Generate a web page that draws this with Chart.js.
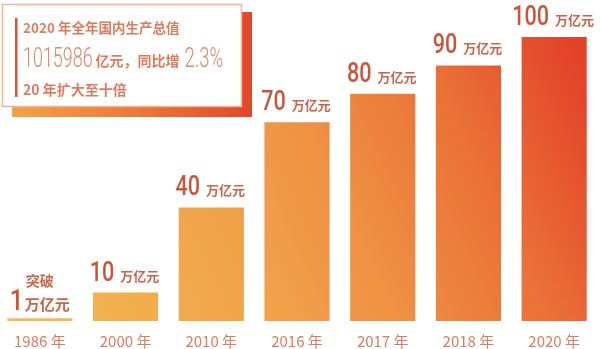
<!DOCTYPE html>
<html>
<head>
<meta charset="utf-8">
<script src="https://cdn.jsdelivr.net/npm/chart.js@4.4.0/dist/chart.umd.min.js"></script>
<style>
  html, body { margin: 0; padding: 0; background: #fff; overflow: hidden; }
  #wrap { position: absolute; left: -3px; top: 0; width: 600px; height: 349px; }
</style>
</head>
<body>
<div id="wrap"><canvas id="gdp" width="600" height="349"></canvas></div>
<script>
// Years and GDP in 万亿元
const years = ['1986 年', '2000 年', '2010 年', '2016 年', '2017 年', '2018 年', '2020 年'];
const gdpTrillion = [1, 10, 40, 70, 80, 90, 100];
const unitLabel = '万亿元';
const firstPrefix = '突破';

// Headline card text
const cardTitle = '2020 年全年国内生产总值';
const gdpTotal = '1015986';
const gdpTotalUnit = '亿元，同比增';
const growthRate = '2.3%';
const cardNote = '20 年扩大至十倍';

const CJK = '"Noto Sans CJK SC", "Noto Sans", sans-serif';
const OX = 3; // canvas is shifted 3px left inside the page

// Diagonal warm gradient shared by all bars
let barGradient = null;
function getGradient(chart) {
  const a = chart.chartArea;
  if (!a) return '#ef9444';
  const key = a.left + ',' + a.right + ',' + a.top + ',' + a.bottom;
  if (barGradient && barGradient._key === key) return barGradient;
  const g = chart.ctx.createLinearGradient(a.left, a.bottom, a.right, a.top);
  g.addColorStop(0.00, '#f2bd5a');
  g.addColorStop(0.20, '#f2ae4c');
  g.addColorStop(0.40, '#f0a04a');
  g.addColorStop(0.55, '#ee9143');
  g.addColorStop(0.76, '#ea7037');
  g.addColorStop(0.94, '#e3472b');
  g.addColorStop(1.00, '#e13f29');
  g._key = key;
  barGradient = g;
  return g;
}

// Narrow digits: Roboto squeezed horizontally
function narrowText(ctx, text, x, y, size, weight, sx, color) {
  ctx.save();
  ctx.font = weight + ' ' + size + 'px Roboto';
  const w = ctx.measureText(text).width * sx;
  ctx.translate(x, y);
  ctx.scale(sx, 1);
  ctx.fillStyle = color;
  ctx.textAlign = 'left';
  ctx.textBaseline = 'alphabetic';
  ctx.fillText(text, 0, 0);
  ctx.restore();
  return w;
}
function measureNarrow(ctx, text, size, weight, sx) {
  ctx.save();
  ctx.font = weight + ' ' + size + 'px Roboto';
  const w = ctx.measureText(text).width * sx;
  ctx.restore();
  return w;
}
function cjkText(ctx, text, x, y, size, color, weight) {
  ctx.save();
  ctx.font = (weight || 'bold') + ' ' + size + 'px ' + CJK;
  ctx.fillStyle = color;
  ctx.textAlign = 'left';
  ctx.textBaseline = 'alphabetic';
  ctx.fillText(text, x, y);
  const w = ctx.measureText(text).width;
  ctx.restore();
  return w;
}

// Headline card in the upper-left corner
const cardPlugin = {
  id: 'card',
  beforeDatasetsDraw(chart) {
    const ctx = chart.ctx;
    ctx.save();
    // offset backing block
    const sx0 = 12 + OX, sy0 = 12, sx1 = 252 + OX, sy1 = 117;
    const sg = ctx.createLinearGradient(sx0, 0, sx1, 0);
    sg.addColorStop(0, '#f2a248');
    sg.addColorStop(0.5, '#ec7a3a');
    sg.addColorStop(1, '#e2472b');
    ctx.fillStyle = sg;
    ctx.fillRect(sx0, sy0, sx1 - sx0, sy1 - sy0);
    // white card
    ctx.fillStyle = '#ffffff';
    ctx.fillRect(2 + OX, 4, 240, 103);
    ctx.strokeStyle = '#f3b394';
    ctx.lineWidth = 1.5;
    ctx.strokeRect(2.5 + OX, 4.5, 239, 102);
    // accent rule
    ctx.fillStyle = '#d5553a';
    ctx.fillRect(15 + OX, 18, 2.5, 79);
    ctx.restore();

    cjkText(ctx, cardTitle, 23 + OX, 33, 13.5, '#db7c5e');
    let x = 23 + OX;
    x += narrowText(ctx, gdpTotal, x, 67, 28, '300', 0.64, '#dc8a70');
    x += 3;
    x += cjkText(ctx, gdpTotalUnit, x, 66, 14, '#db7c5e');
    x += 5;
    narrowText(ctx, growthRate, x, 67, 28, '300', 0.66, '#dc8a70');
    cjkText(ctx, cardNote, 23 + OX, 95, 14, '#db7c5e');
  }
};

// Value labels above each bar
const valuePlugin = {
  id: 'values',
  afterDatasetsDraw(chart) {
    const ctx = chart.ctx;
    const meta = chart.getDatasetMeta(0);
    const numColor = '#c9563a';
    const unitColor = '#c8654a';
    meta.data.forEach((bar, i) => {
      const num = String(gdpTrillion[i]);
      if (i === 0) {
        const left = bar.x - 30;
        narrowText(ctx, num, left, 310, 30, '500', 0.8, numColor);
        cjkText(ctx, firstPrefix, left + 16, 286, 14, unitColor);
        cjkText(ctx, unitLabel, left + 15, 310, 15, unitColor);
        return;
      }
      const nw = measureNarrow(ctx, num, 27, '500', 0.8);
      ctx.save();
      ctx.font = 'bold 13px ' + CJK;
      const uw = ctx.measureText(unitLabel).width;
      ctx.restore();
      const gap = 6;
      const start = bar.x - (nw + gap + uw) / 2 - 1;
      const base = bar.y - 12;
      narrowText(ctx, num, start, base, 27, '500', 0.8, numColor);
      cjkText(ctx, unitLabel, start + nw + gap, base, 13, unitColor);
    });
  }
};

new Chart(document.getElementById('gdp'), {
  type: 'bar',
  data: {
    labels: years,
    datasets: [{
      data: gdpTrillion,
      backgroundColor: (c) => getGradient(c.chart),
      borderWidth: 0,
      barPercentage: 0.76,
      categoryPercentage: 1
    }]
  },
  options: {
    responsive: false,
    devicePixelRatio: 1,
    animation: false,
    layout: { padding: { top: 37, left: 0, right: 0, bottom: 0 } },
    plugins: { legend: { display: false }, tooltip: { enabled: false } },
    scales: {
      x: {
        grid: { display: false, drawTicks: false },
        border: { display: false },
        ticks: { color: '#d87e66', font: { family: CJK, size: 15 }, padding: 11 },
        afterFit(scale) { scale.height = 28; }
      },
      y: { display: false, min: 0, max: 100 }
    }
  },
  plugins: [cardPlugin, valuePlugin]
});
</script>
</body>
</html>
